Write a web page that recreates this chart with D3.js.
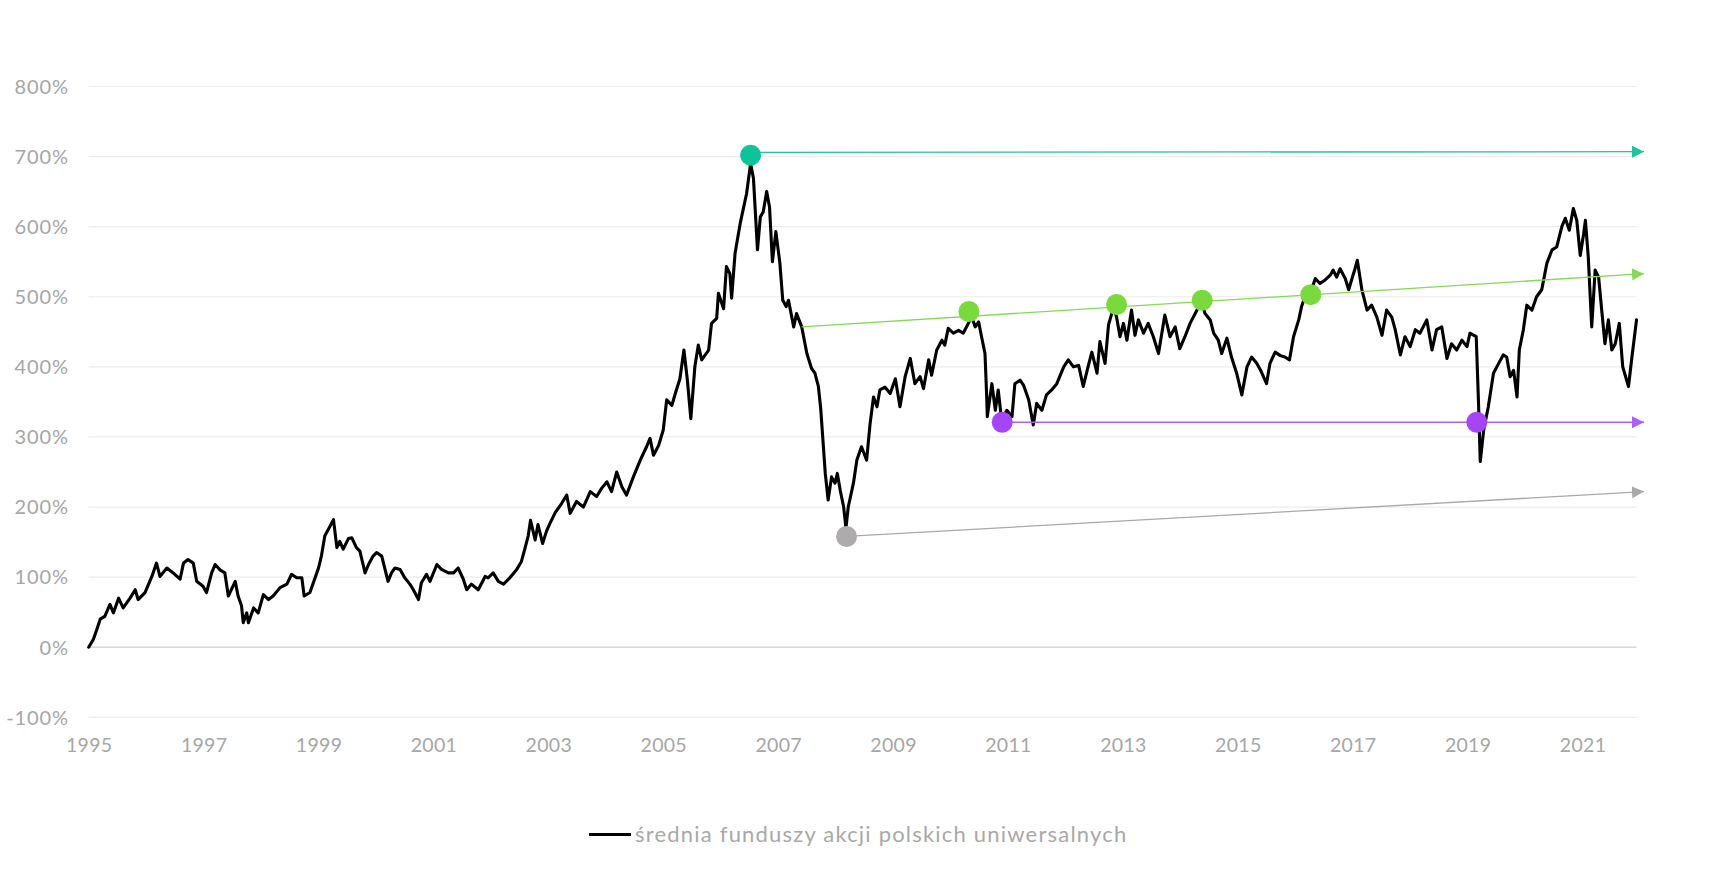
<!DOCTYPE html>
<html>
<head>
<meta charset="utf-8">
<script src="https://cdn.jsdelivr.net/npm/d3@7"></script>
<style>
  html, body { margin: 0; padding: 0; background: #ffffff; }
  svg { display: block; }
  text { font-family: Lato, "Open Sans", sans-serif; }
</style>
</head>
<body>
<svg id="chart" width="1717" height="883"></svg>
<script>
// ---- data (decimal year, cumulative % return) ----
const years = [
1995.00,1995.08,1995.14,1995.20,1995.28,1995.37,1995.43,1995.52,1995.60,1995.72,1995.81,1995.86,1995.98,
1996.10,1996.18,1996.24,1996.36,1996.47,1996.59,1996.65,1996.73,1996.82,1996.88,1996.99,
1997.05,1997.14,1997.20,1997.29,1997.37,1997.43,1997.55,1997.60,1997.66,1997.69,1997.75,1997.78,1997.87,1997.95,
1998.04,1998.13,1998.21,1998.33,1998.45,1998.53,1998.62,1998.71,1998.75,1998.85,1998.91,
1999.00,1999.05,1999.11,1999.17,1999.26,1999.32,1999.37,1999.43,1999.52,1999.58,1999.66,1999.72,1999.81,1999.87,1999.95,
2000.01,2000.10,2000.21,2000.27,2000.33,2000.42,2000.50,2000.59,2000.65,2000.74,2000.79,2000.88,2000.94,
2001.06,2001.14,2001.26,2001.35,2001.43,2001.52,2001.58,2001.66,2001.78,2001.90,2001.95,
2002.04,2002.13,2002.22,2002.33,2002.45,2002.53,2002.59,2002.65,2002.69,2002.77,2002.82,2002.90,2002.97,
2003.03,2003.12,2003.23,2003.32,2003.38,2003.49,2003.61,2003.73,2003.84,2003.93,
2004.02,2004.10,2004.19,2004.28,2004.36,2004.48,2004.60,2004.71,2004.77,2004.83,2004.92,
2005.00,2005.06,2005.15,2005.21,2005.29,2005.36,2005.42,2005.48,2005.55,2005.61,2005.67,2005.79,2005.84,2005.93,2005.96,
2006.05,2006.10,2006.16,2006.19,2006.25,2006.34,2006.45,2006.52,2006.57,2006.64,2006.69,2006.74,2006.80,2006.85,2006.90,2006.96,
2007.03,2007.08,2007.14,2007.18,2007.27,2007.32,2007.41,2007.50,2007.58,2007.64,2007.70,2007.74,2007.82,2007.87,2007.93,2007.99,
2008.03,2008.08,2008.14,2008.18,2008.22,2008.31,2008.37,2008.45,2008.54,2008.60,2008.66,2008.72,2008.77,2008.86,2008.95,
2009.04,2009.12,2009.21,2009.30,2009.38,2009.47,2009.53,2009.62,2009.67,2009.76,2009.85,2009.90,2009.96,
2010.05,2010.14,2010.22,2010.31,2010.37,2010.43,2010.49,2010.54,2010.60,2010.63,2010.64,2010.72,2010.78,2010.83,2010.89,2010.98,
2011.07,2011.12,2011.21,2011.27,2011.36,2011.44,2011.50,2011.59,2011.67,2011.76,2011.85,2011.97,
2012.05,2012.14,2012.23,2012.31,2012.40,2012.46,2012.55,2012.60,2012.69,2012.75,2012.84,2012.89,2012.95,
2013.01,2013.07,2013.15,2013.21,2013.27,2013.36,2013.44,2013.53,2013.62,2013.73,2013.82,2013.91,2013.99,
2014.08,2014.17,2014.29,2014.37,2014.43,2014.52,2014.58,2014.66,2014.72,2014.81,2014.89,2014.98,
2015.07,2015.16,2015.24,2015.33,2015.41,2015.50,2015.56,2015.65,2015.74,2015.82,2015.90,2015.97,
2016.06,2016.11,2016.17,2016.26,2016.35,2016.43,2016.52,2016.61,2016.66,2016.72,2016.78,2016.87,2016.93,2016.98,
2017.04,2017.08,2017.16,2017.25,2017.33,2017.42,2017.51,2017.59,2017.68,2017.74,2017.83,2017.91,
2018.00,2018.09,2018.17,2018.29,2018.38,2018.46,2018.55,2018.64,2018.72,2018.81,2018.90,2018.99,
2019.04,2019.15,2019.19,2019.22,2019.28,2019.36,2019.45,2019.54,2019.62,2019.68,2019.74,2019.80,2019.86,2019.90,2019.97,
2020.03,2020.12,2020.20,2020.29,2020.38,2020.47,2020.55,2020.64,2020.70,2020.77,2020.84,2020.90,2020.96,
2021.02,2021.05,2021.10,2021.16,2021.22,2021.28,2021.34,2021.39,2021.45,2021.51,2021.57,2021.64,2021.70,2021.80,2021.86,2021.94
];
const values = [
0,11,25,40,44,61,49,70,56,70,82,68,78,
101,120,101,113,106,97,120,125,120,94,87,
78,106,118,110,106,73,94,73,59,35,49,35,56,49,
75,68,73,85,90,104,99,99,73,78,92,
113,130,159,168,182,142,151,140,155,156,142,137,106,118,130,
135,130,94,106,113,111,99,90,82,68,92,104,94,
118,111,106,106,113,97,82,90,82,101,99,
106,94,90,99,111,122,140,159,181,153,175,148,166,
177,192,205,217,191,208,200,222,215,227,
236,222,250,229,217,243,267,286,298,274,288,
310,353,345,362,383,424,381,326,400,431,410,424,462,469,505,
483,543,533,498,562,605,647,690,669,567,614,621,650,628,550,593,
548,495,486,495,457,476,457,419,398,391,372,341,248,210,243,234,
248,224,200,170,200,234,267,286,267,319,357,343,367,371,362,
383,343,386,412,376,386,369,410,388,424,438,431,455,
448,452,448,462,471,457,464,443,419,357,329,376,338,367,324,338,
329,376,381,374,353,317,348,338,360,367,376,400,
410,400,402,372,402,421,391,436,405,460,486,471,443,
462,438,481,445,467,448,462,443,419,474,443,457,426,
443,462,481,493,476,467,448,438,419,441,414,391,
360,400,414,405,393,376,405,421,416,414,410,443,
467,486,500,505,526,519,524,531,538,528,540,526,510,524,
540,552,510,481,488,471,445,481,471,453,417,443,
429,453,448,467,424,453,457,412,433,424,438,429,
448,443,348,265,310,343,391,405,417,414,386,395,357,424,453,
488,481,500,510,548,567,571,600,612,595,626,609,559,
590,609,557,457,538,528,476,433,467,424,433,462,400,372,414,467
];

const yTicks = [-100, 0, 100, 200, 300, 400, 500, 600, 700, 800];
const xTicks = [1995, 1997, 1999, 2001, 2003, 2005, 2007, 2009, 2011, 2013, 2015, 2017, 2019, 2021];
const seriesName = "średnia funduszy akcji polskich uniwersalnych";

// annotation lines (start, end) and points
const tealLine   = [[2006.52, 706], [2022.07, 707]];
const tealDots   = [[2006.52, 702]];
const greenLine  = [[2007.41, 457], [2022.07, 533]];
const greenDots  = [[2010.32, 479], [2012.89, 489], [2014.38, 495], [2016.27, 503]];
const purpleLine = [[2010.90, 321], [2022.07, 321]];
const purpleDots = [[2010.90, 321], [2019.16, 321]];
const grayLine   = [[2008.19, 158], [2022.07, 222]];
const grayDots   = [[2008.19, 158]];

// ---- drawing ----
const svg = d3.select("#chart");
const x = d3.scaleLinear().domain([1995, 2022.07]).range([88.7, 1644]);
const y = d3.scaleLinear().domain([-100, 800]).range([717.3, 86.5]);

const xEnd = d3.max(years);

// gridlines
svg.append("g").selectAll("line").data(yTicks).join("line")
  .attr("x1", x(1995)).attr("x2", x(xEnd))
  .attr("y1", d => y(d)).attr("y2", d => y(d))
  .attr("stroke", d => d === 0 ? "#cfcfcf" : "#ececec")
  .attr("stroke-width", d => d === 0 ? 1.3 : 1.2);

// y axis labels
const yAxis = d3.axisLeft(y).tickValues(yTicks).tickSize(0).tickPadding(0)
  .tickFormat(d => d + "%");
const gy = svg.append("g").attr("transform", "translate(69,0)").call(yAxis);
gy.select(".domain").remove();
gy.selectAll("text").attr("fill", "#a6a6a6").style("font-size", "20px")
  .style("letter-spacing", "0.9px")
  .style("font-family", "Lato, sans-serif").attr("dy", "0.34em");

// x axis labels
const xAxis = d3.axisBottom(x).tickValues(xTicks).tickSize(0).tickPadding(0)
  .tickFormat(d3.format("d"));
const gx = svg.append("g").attr("transform", "translate(0,738)").call(xAxis);
gx.select(".domain").remove();
gx.selectAll("text").attr("fill", "#a6a6a6").style("font-size", "19.5px")
  .style("letter-spacing", "0.3px")
  .style("font-family", "Lato, sans-serif");

// main series
const data = years.map((t, i) => [t, values[i]]);
const line = d3.line().x(d => x(d[0])).y(d => y(d[1]));
svg.append("path").datum(data)
  .attr("d", line)
  .attr("fill", "none").attr("stroke", "#000").attr("stroke-width", 3.1)
  .attr("stroke-linejoin", "round").attr("stroke-linecap", "round");

// arrow markers
const defs = svg.append("defs");
const annos = [
  { id: "teal",   line: tealLine,   dots: tealDots,   lc: "#1fc39c", dc: "#0dc399" },
  { id: "green",  line: greenLine,  dots: greenDots,  lc: "#86d955", dc: "#7ad93d" },
  { id: "purple", line: purpleLine, dots: purpleDots, lc: "#ae5ff5", dc: "#a645f5" },
  { id: "gray",   line: grayLine,   dots: grayDots,   lc: "#a9a9a9", dc: "#adabab" }
];
annos.forEach(a => {
  defs.append("marker").attr("id", "arr-" + a.id)
    .attr("viewBox", "0 0 10 10").attr("refX", 10).attr("refY", 5)
    .attr("markerWidth", 12).attr("markerHeight", 12)
    .attr("markerUnits", "userSpaceOnUse").attr("orient", "auto")
    .append("path").attr("d", "M0,0 L10,5 L0,10 Z").attr("fill", a.lc);
});
annos.forEach(a => {
  svg.append("path").datum(a.line).attr("d", line)
    .attr("fill", "none").attr("stroke", a.lc).attr("stroke-width", 1.3)
    .attr("marker-end", "url(#arr-" + a.id + ")");
});
annos.forEach(a => {
  svg.append("g").selectAll("circle").data(a.dots).join("circle")
    .attr("cx", d => x(d[0])).attr("cy", d => y(d[1])).attr("r", 10.5)
    .attr("fill", a.dc);
});

// legend
const lg = svg.append("g").attr("transform", "translate(589,834.5)");
lg.append("line").attr("x1", 0).attr("x2", 42).attr("y1", 0).attr("y2", 0)
  .attr("stroke", "#000").attr("stroke-width", 3);
lg.append("text").attr("x", 46).attr("y", 0).attr("dy", "0.35em")
  .attr("fill", "#a8a8a8").style("font-size", "22px").style("letter-spacing", "1.2px")
  .text(seriesName);
</script>
</body>
</html>
